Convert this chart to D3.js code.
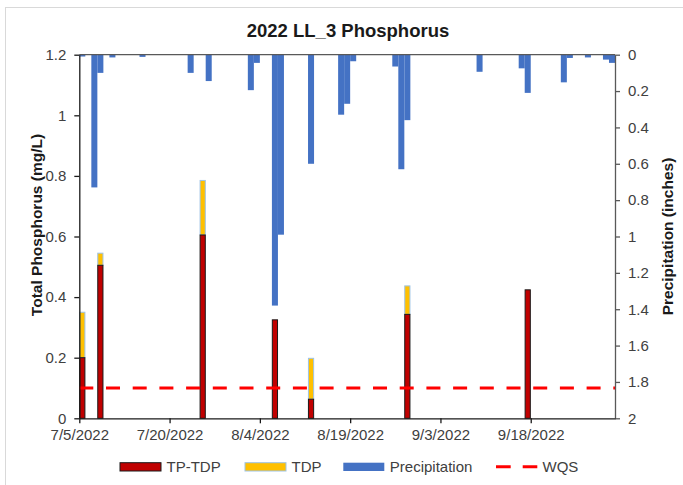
<!DOCTYPE html>
<html>
<head>
<meta charset="utf-8">
<script src="https://cdn.jsdelivr.net/npm/d3@7"></script>
<style>
  html, body { margin: 0; padding: 0; background: #fff; }
  svg { display: block; font-family: "Liberation Sans", Arial, sans-serif; }
</style>
</head>
<body>
<svg id="chart" width="683" height="485"></svg>
<script>
// Sampling dates and phosphorus fractions (mg/L)
const sampleDates = ["2022-07-05", "2022-07-08", "2022-07-25", "2022-08-06", "2022-08-12", "2022-08-28", "2022-09-17"];
const tpMinusTdp  = [0.200, 0.505, 0.605, 0.325, 0.063, 0.343, 0.424];
const tdp         = [0.150, 0.040, 0.180, 0.000, 0.135, 0.094, 0.000];

// Daily precipitation (inches)
const precipDates = ["2022-07-05", "2022-07-07", "2022-07-08", "2022-07-10", "2022-07-15", "2022-07-23", "2022-07-26",
                     "2022-08-02", "2022-08-03", "2022-08-06", "2022-08-07", "2022-08-12", "2022-08-17", "2022-08-18",
                     "2022-08-19", "2022-08-26", "2022-08-27", "2022-08-28", "2022-09-09", "2022-09-16", "2022-09-17",
                     "2022-09-23", "2022-09-24", "2022-09-27", "2022-09-30", "2022-10-01"];
const precipValues = [0.010, 0.730, 0.100, 0.015, 0.012, 0.100, 0.145,
                      0.195, 0.045, 1.380, 0.990, 0.600, 0.330, 0.270,
                      0.036, 0.065, 0.630, 0.360, 0.094, 0.075, 0.210,
                      0.152, 0.018, 0.015, 0.027, 0.045];

// Water quality standard (mg/L)
const wqs = 0.1;

// Axis ticks
const xTickDates = ["2022-07-05", "2022-07-20", "2022-08-04", "2022-08-19", "2022-09-03", "2022-09-18"];
const leftTicks  = [0, 0.2, 0.4, 0.6, 0.8, 1, 1.2];
const rightTicks = [0, 0.2, 0.4, 0.6, 0.8, 1, 1.2, 1.4, 1.6, 1.8, 2];
const xDomain    = ["2022-07-05", "2022-10-02"];

const parse = d3.timeParse("%Y-%m-%d");
const fmtDate = d3.timeFormat("%-m/%-d/%Y");

const plot = { left: 79.3, right: 615, top: 54.7, bottom: 418.3 };

const svg = d3.select("#chart");

// outer frame of the chart area
svg.append("rect")
  .attr("x", 5.5).attr("y", 7.5).attr("width", 720).attr("height", 520)
  .attr("fill", "none").attr("stroke", "#d9d9d9").attr("stroke-width", 1);

const x = d3.scaleTime()
  .domain(xDomain.map(parse))
  .range([plot.left, plot.right]);
const dayW = x(d3.timeDay.offset(parse(xDomain[0]), 1)) - x(parse(xDomain[0]));
const xc = d => x(d3.timeHour.offset(parse(d), 12)); // centre of a day slot

const yL = d3.scaleLinear().domain([0, 1.2]).range([plot.bottom, plot.top]);
const yR = d3.scaleLinear().domain([0, 2]).range([plot.top, plot.bottom]);

// Stacked phosphorus bars
const samples = sampleDates.map((d, i) => ({ date: d, lower: tpMinusTdp[i], upper: tdp[i] }));
const barW = 5.2;
const gBars = svg.append("g");
gBars.selectAll("rect.tdp")
  .data(samples.filter(s => s.upper > 0))
  .join("rect")
  .attr("class", "tdp")
  .attr("x", s => xc(s.date) - barW / 2)
  .attr("width", barW)
  .attr("y", s => yL(s.lower + s.upper))
  .attr("height", s => yL(s.lower) - yL(s.lower + s.upper))
  .attr("fill", "#FFC000")
  .attr("stroke", "#9DC3E6")
  .attr("stroke-width", 1);
gBars.selectAll("rect.tp")
  .data(samples)
  .join("rect")
  .attr("class", "tp")
  .attr("x", s => xc(s.date) - barW / 2)
  .attr("width", barW)
  .attr("y", s => yL(s.lower))
  .attr("height", s => yL(0) - yL(s.lower))
  .attr("fill", "#C00000")
  .attr("stroke", "#1a1a1a")
  .attr("stroke-width", 1);

// Precipitation bars hanging from the top (reversed secondary axis)
const precip = precipDates.map((d, i) => ({ date: d, v: precipValues[i] }));
svg.append("g").selectAll("rect")
  .data(precip)
  .join("rect")
  .attr("x", p => xc(p.date) - dayW / 2)
  .attr("width", dayW)
  .attr("y", yR(0))
  .attr("height", p => yR(p.v) - yR(0))
  .attr("fill", "#4472C4");

// WQS reference line
svg.append("line")
  .attr("x1", plot.left).attr("x2", plot.right)
  .attr("y1", yL(wqs)).attr("y2", yL(wqs))
  .attr("stroke", "#FF0000")
  .attr("stroke-width", 3)
  .attr("stroke-dasharray", "14,12.7");

// Axes
const tickColor = "#404040";
const leftAxis = d3.axisLeft(yL).tickValues(leftTicks).tickSize(5).tickSizeOuter(0).tickPadding(8)
  .tickFormat(d3.format("~g"));
const rightAxis = d3.axisRight(yR).tickValues(rightTicks).tickSize(5).tickSizeOuter(0).tickPadding(8)
  .tickFormat(d3.format("~g"));
const bottomAxis = d3.axisBottom(x).tickValues(xTickDates.map(parse)).tickSize(5).tickSizeOuter(0).tickPadding(6)
  .tickFormat(fmtDate);

function styleAxis(g, lineColor) {
  g.selectAll("path.domain").attr("stroke", lineColor).attr("stroke-width", 1.3);
  g.selectAll(".tick line").attr("stroke", lineColor).attr("stroke-width", 1.3);
  g.selectAll(".tick text")
    .attr("fill", tickColor)
    .attr("font-size", 15)
    .attr("font-family", "'Liberation Sans', Arial, sans-serif");
}

// top border line of the plot (secondary category axis)
svg.append("line")
  .attr("x1", plot.left).attr("x2", plot.right)
  .attr("y1", plot.top).attr("y2", plot.top)
  .attr("stroke", "#595959").attr("stroke-width", 1.3);

svg.append("g").attr("transform", `translate(${plot.left},0)`).call(leftAxis).call(g => styleAxis(g, "#1a1a1a"));
svg.append("g").attr("transform", `translate(${plot.right},0)`).call(rightAxis).call(g => styleAxis(g, "#595959"));
svg.append("g").attr("transform", `translate(0,${plot.bottom})`).call(bottomAxis).call(g => styleAxis(g, "#1a1a1a"));

// Title
svg.append("text")
  .attr("x", 348).attr("y", 37)
  .attr("text-anchor", "middle")
  .attr("font-size", 18.5).attr("font-weight", "bold").attr("fill", "#1a1a1a")
  .text("2022 LL_3 Phosphorus");

// Axis titles
svg.append("text")
  .attr("transform", "translate(42,225) rotate(-90)")
  .attr("text-anchor", "middle")
  .attr("font-size", 15.5).attr("font-weight", "bold").attr("fill", "#1a1a1a")
  .text("Total Phosphorus (mg/L)");
svg.append("text")
  .attr("transform", "translate(673,236.5) rotate(-90)")
  .attr("text-anchor", "middle")
  .attr("font-size", 15.5).attr("font-weight", "bold").attr("fill", "#1a1a1a")
  .text("Precipitation (inches)");

// Legend
const legendItems = [
  { label: "TP-TDP", type: "rect", fill: "#C00000", stroke: "#1a1a1a", x: 120 },
  { label: "TDP", type: "rect", fill: "#FFC000", stroke: "#9DC3E6", x: 245 },
  { label: "Precipitation", type: "rect", fill: "#4472C4", stroke: "none", x: 343.3 },
  { label: "WQS", type: "line", stroke: "#FF0000", x: 496 }
];
const lg = svg.append("g");
legendItems.forEach(it => {
  if (it.type === "rect") {
    lg.append("rect")
      .attr("x", it.x).attr("y", 462.7).attr("width", 41).attr("height", 8.3)
      .attr("fill", it.fill).attr("stroke", it.stroke).attr("stroke-width", 1);
  } else {
    lg.append("line")
      .attr("x1", it.x).attr("x2", it.x + 41.3)
      .attr("y1", 466.8).attr("y2", 466.8)
      .attr("stroke", it.stroke).attr("stroke-width", 3)
      .attr("stroke-dasharray", "14.7,12");
  }
  lg.append("text")
    .attr("x", it.x + 46.5).attr("y", 472.3)
    .attr("font-size", 15).attr("fill", tickColor)
    .text(it.label);
});
</script>
</body>
</html>
